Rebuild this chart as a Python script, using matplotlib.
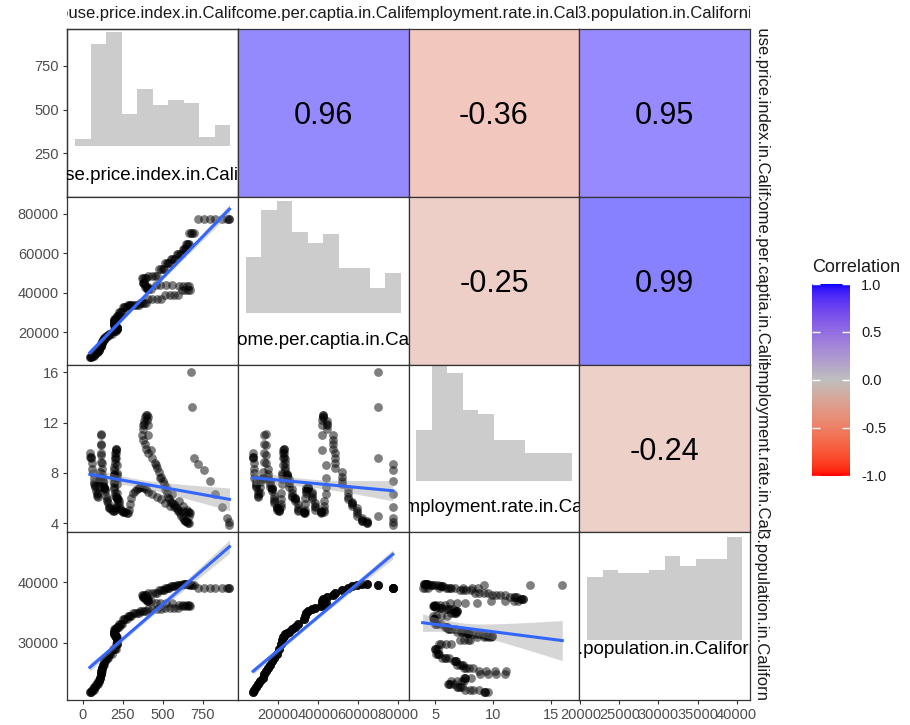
import numpy as np
import matplotlib
matplotlib.use("Agg")
import matplotlib.pyplot as plt
from matplotlib.colors import ListedColormap, Normalize
from matplotlib.transforms import Bbox, TransformedBbox, ScaledTranslation
from matplotlib.ticker import FormatStrFormatter
import matplotlib.colorbar as mcolorbar

plt.rcParams['font.family'] = ['Liberation Sans', 'DejaVu Sans']
plt.rcParams['axes.unicode_minus'] = False

# ---------------- data (quarterly 1976Q1 - 2022Q4) ----------------
years = list(range(1976, 2023))

hpi = [
    44, 47, 50, 53,   56, 60, 64, 67,   70, 73, 76, 79,   82, 86, 90, 93,
    96, 99, 101, 103, 105, 107, 109, 110, 111, 112, 112, 113, 114, 115, 116, 117,
    118, 120, 121, 122, 124, 126, 128, 130, 132, 135, 138, 141, 145, 149, 153, 157,
    161, 167, 173, 180, 187, 194, 200, 205, 208, 211, 212, 212, 212, 213, 212, 211,
    211, 210, 209, 208, 206, 205, 204, 202, 200, 199, 198, 196, 195, 194, 194, 193,
    193, 194, 195, 196, 198, 201, 204, 208, 211, 216, 221, 226, 229, 234, 239, 245,
    251, 258, 266, 274, 282, 289, 295, 302, 312, 324, 337, 350, 358, 369, 381, 395,
    410, 436, 466, 488, 515, 545, 572, 595, 620, 640, 660, 670, 665, 650, 625, 600,
    560, 520, 485, 455, 425, 410, 405, 402, 405, 403, 398, 390, 385, 380, 377, 374,
    372, 378, 388, 398, 410, 430, 450, 465, 478, 490, 500, 508, 515, 525, 535, 542,
    550, 560, 572, 580, 588, 598, 608, 615, 625, 635, 642, 645, 648, 652, 658, 662,
    665, 675, 682, 695, 720, 760, 795, 830, 868, 900, 918, 912,
]

unemployment = [
    9.6, 9.3, 9.2, 9.3,  8.8, 8.3, 8.0, 7.6,  7.3, 7.1, 7.0, 6.9,  6.6, 6.3, 6.2, 6.1,
    6.4, 6.9, 7.3, 7.5,  7.6, 7.5, 7.6, 8.1,  8.9, 9.6, 10.3, 11.0, 11.1, 10.2, 9.4, 8.8,
    8.3, 7.9, 7.7, 7.5,  7.4, 7.3, 7.1, 6.9,  6.8, 6.8, 6.7, 6.6,  6.2, 5.9, 5.8, 5.6,
    5.3, 5.2, 5.2, 5.1,  5.0, 5.0, 5.1, 5.2,  5.3, 5.5, 5.9, 6.4,  7.1, 7.5, 7.8, 8.0,
    8.6, 9.2, 9.6, 9.8,  9.9, 9.9, 9.6, 9.3,  9.1, 8.8, 8.5, 8.2,  7.9, 7.8, 7.8, 7.7,
    7.5, 7.3, 7.2, 6.9,  6.7, 6.4, 6.2, 6.1,  6.0, 6.0, 5.9, 5.8,  5.5, 5.2, 5.1, 5.0,
    4.9, 4.9, 4.9, 4.8,  4.8, 5.1, 5.5, 6.0,  6.4, 6.6, 6.7, 6.8,  6.9, 6.9, 6.8, 6.7,
    6.5, 6.3, 6.1, 5.9,  5.6, 5.4, 5.3, 5.1,  5.0, 4.9, 4.9, 4.8,  4.9, 5.1, 5.4, 5.8,
    6.3, 6.9, 7.6, 8.6,  9.8, 11.0, 11.8, 12.2, 12.4, 12.6, 12.6, 12.4, 12.1, 11.9, 11.8, 11.5,
    11.0, 10.6, 10.3, 9.9, 9.6, 9.2, 8.8, 8.4, 8.1, 7.7, 7.4, 7.1,  6.7, 6.4, 6.1, 5.9,
    5.7, 5.6, 5.5, 5.4,  5.2, 5.0, 4.8, 4.6,  4.4, 4.3, 4.2, 4.2,  4.2, 4.1, 4.0, 4.0,
    4.6, 16.0, 13.2, 9.2, 8.7, 8.2, 7.4, 6.3, 5.3, 4.4, 3.9, 4.1,
]

income_annual = [
    7600, 8200, 9100, 10100, 11200, 12400, 13100, 13900, 15200, 16200,
    17200, 18200, 19400, 20500, 21600, 22000, 22600, 22900, 23500, 24400,
    25600, 26800, 28500, 30200, 33000, 33800, 34000, 35000, 36900, 38700,
    41500, 43200, 43900, 42000, 42700, 44700, 47500, 48400, 52000, 55000,
    57300, 59800, 62300, 64500, 70200, 77500, 77500,
]

population_annual = [
    21870, 22300, 22800, 23280, 23800, 24300, 24820, 25340, 25840, 26400,
    26980, 27600, 28250, 29000, 29800, 30450, 30900, 31200, 31450, 31650,
    31870, 32250, 32680, 33150, 33900, 34450, 34880, 35250, 35570, 35830,
    36050, 36300, 36650, 36950, 37250, 37600, 37950, 38300, 38650, 39000,
    39300, 39550, 39750, 39700, 39580, 39100, 39050,
]

var_names = [
    "House.price.index.in.California",
    "Income.per.captia.in.California",
    "Unemployment.rate.in.California",
    "X3.population.in.California",
]

# histogram bar heights (10 bins each)
hist_hpi = [3, 45, 50, 14, 25, 18, 20, 19, 4, 9]
hist_income = [25, 46, 50, 36, 31, 35, 20, 20, 11, 18]
hist_unemp = [22, 50, 47, 31, 29, 18, 18, 12, 12, 12]
hist_pop = [37, 41, 39, 39, 41, 49, 43, 47, 47, 60]

# correlation values shown in the upper panels
corr_hpi_income = 0.96
corr_hpi_unemp = -0.36
corr_hpi_pop = 0.95
corr_income_unemp = -0.25
corr_income_pop = 0.99
corr_unemp_pop = -0.24

x_ticks = [[0, 250, 500, 750], [20000, 40000, 60000, 80000], [5, 10, 15],
           [20000, 25000, 30000, 35000, 40000]]
y_ticks = [[250, 500, 750], [20000, 40000, 60000, 80000], [4, 8, 12, 16],
           [30000, 40000]]
legend_ticks = [-1.0, -0.5, 0.0, 0.5, 1.0]

# ---------------- derived ----------------
data = [np.array(hpi, float), np.repeat(income_annual, 4).astype(float),
        np.array(unemployment, float), np.repeat(population_annual, 4).astype(float)]
hists = [hist_hpi, hist_income, hist_unemp, hist_pop]
corr = {(0, 1): corr_hpi_income, (0, 2): corr_hpi_unemp, (0, 3): corr_hpi_pop,
        (1, 2): corr_income_unemp, (1, 3): corr_income_pop, (2, 3): corr_unemp_pop}


def gg_edges(x, nbins):
    lo, hi = x.min(), x.max()
    width = (hi - lo) / (nbins - 1)
    boundary = width / 2
    shift = np.floor((lo - boundary) / width)
    origin = boundary + shift * width
    return origin + width * np.arange(nbins + 1)


def lm_ci(x, y, npts=80):
    xs = np.linspace(x.min(), x.max(), npts)
    xm, ym = x.mean(), y.mean()
    sxx = np.sum((x - xm) ** 2)
    b = np.sum((x - xm) * (y - ym)) / sxx
    a = ym - b * xm
    res = y - (a + b * x)
    s = np.sqrt(np.sum(res ** 2) / (len(x) - 2))
    se = s * np.sqrt(1 / len(x) + (xs - xm) ** 2 / sxx)
    fit = a + b * xs
    return xs, fit, fit - 1.973 * se, fit + 1.973 * se


edges = [gg_edges(d, len(h)) for d, h in zip(data, hists)]
xlims = []
for e in edges:
    span = e[-1] - e[0]
    xlims.append((e[0] - 0.05 * span, e[-1] + 0.05 * span))

ylims = []
for i in range(4):
    if i == 0:
        lo, hi = data[0].min(), data[0].max()
    else:
        xs, fit, l, u = lm_ci(data[0], data[i])
        lo = min(data[i].min(), l.min())
        hi = max(data[i].max(), u.max())
    r = hi - lo
    ylims.append((lo - 0.05 * r, hi + 0.05 * r))


# diverging palette interpolated in Lab (red - grey - blue)
def srgb2lab(c):
    c = np.asarray(c, float)
    lin = np.where(c <= 0.04045, c / 12.92, ((c + 0.055) / 1.055) ** 2.4)
    M = np.array([[0.4124, 0.3576, 0.1805], [0.2126, 0.7152, 0.0722], [0.0193, 0.1192, 0.9505]])
    xyz = M @ lin / np.array([0.95047, 1.0, 1.08883])
    f = np.where(xyz > 0.008856, np.cbrt(xyz), 7.787 * xyz + 16 / 116)
    return np.array([116 * f[1] - 16, 500 * (f[0] - f[1]), 200 * (f[1] - f[2])])


def lab2srgb(lab):
    L, a, b = lab
    fy = (L + 16) / 116
    fx = fy + a / 500
    fz = fy - b / 200
    f = np.array([fx, fy, fz])
    xyz = np.where(f ** 3 > 0.008856, f ** 3, (f - 16 / 116) / 7.787) * np.array([0.95047, 1.0, 1.08883])
    Minv = np.linalg.inv(np.array([[0.4124, 0.3576, 0.1805], [0.2126, 0.7152, 0.0722], [0.0193, 0.1192, 0.9505]]))
    lin = np.clip(Minv @ xyz, 0, 1)
    return np.clip(np.where(lin <= 0.0031308, 12.92 * lin, 1.055 * lin ** (1 / 2.4) - 0.055), 0, 1)


low_lab = srgb2lab([1, 0, 0])
mid_lab = srgb2lab([190 / 255] * 3)
high_lab = srgb2lab([0, 0, 1])
cols = []
for v in np.linspace(-1, 1, 257):
    if v < 0:
        lab = mid_lab + (-v) * (low_lab - mid_lab)
    else:
        lab = mid_lab + v * (high_lab - mid_lab)
    cols.append(lab2srgb(lab))
cmap = ListedColormap(cols)
norm = Normalize(-1, 1)

# ---------------- figure ----------------
W, H = 910, 725
fig = plt.figure(figsize=(W / 100, H / 100), dpi=100)
X0, Y0, X1, Y1 = 67.3, 29.0, 750.0, 700.0
pw, ph = (X1 - X0) / 4, (Y1 - Y0) / 4

# diagonal layout: (baseline fraction, top fraction, label fraction)
diag_geom = [(0.305, 0.98, 0.125), (0.306, 0.976, 0.143), (0.307, 0.99, 0.15),
             (0.36, 0.97, 0.30)]
# horizontal offsets (in em) of the clipped labels
strip_shift = [0.47, 0.7, 0.72, 0.0]
diag_shift = [0.33, 0.8, 0.55, 0.0]
strip_fs, diag_fs = 12.0, 13.5

border = '#333333'
axes = [[None] * 4 for _ in range(4)]
for i in range(4):
    for j in range(4):
        left = X0 + j * pw
        top = Y0 + i * ph
        ax = fig.add_axes([left / W, 1 - (top + ph) / H, pw / W, ph / H])
        axes[i][j] = ax
        for s in ax.spines.values():
            s.set_color(border)
            s.set_linewidth(0.9)
        ax.set_xlim(xlims[j])

        if i > j:
            x, y = data[j], data[i]
            ax.set_ylim(ylims[i])
            ax.scatter(x, y, s=40, c='black', alpha=0.5, linewidths=0, zorder=2)
            xs, fit, l, u = lm_ci(x, y)
            ax.fill_between(xs, l, u, color='#999999', alpha=0.4, linewidth=0, zorder=3)
            ax.plot(xs, fit, color='#3366FF', linewidth=2.2, zorder=4)
        elif i < j:
            r = corr[(i, j)]
            rgba = cmap(norm(r))
            bg = tuple(0.5 * np.array(rgba[:3]) + 0.5)
            ax.set_facecolor(bg)
            ax.set_ylim(ylims[i])
            ax.text(0.5, 0.48, f"{r:.2f}", transform=ax.transAxes, ha='center', va='center',
                    fontsize=22, color='black')
        else:
            hax = ax
            if i == 0:
                ax.set_ylim(ylims[0])
                hax = ax.twinx()
                hax.set_xlim(xlims[j])
                for s in hax.spines.values():
                    s.set_color(border)
                    s.set_linewidth(0.9)
                hax.tick_params(right=False, labelright=False)
            e = edges[j]
            cnt = np.array(hists[j], float)
            hax.bar(e[:-1], cnt, width=np.diff(e), align='edge', color='#CCCCCC', linewidth=0)
            b, t, lab_y = diag_geom[j]
            rng = cnt.max() / (t - b)
            hax.set_ylim(-b * rng, -b * rng + rng)
            off = ScaledTranslation(diag_shift[j] * diag_fs / 72, 0, fig.dpi_scale_trans)
            hax.text(0.5, lab_y, var_names[j], transform=hax.transAxes + off, ha='center',
                     va='center', fontsize=diag_fs, color='black', clip_on=True)

        ax.tick_params(length=3, width=0.8, color=border, labelsize=10.5,
                       labelcolor='#4D4D4D', pad=3)
        if j == 0:
            ax.set_yticks(y_ticks[i])
        else:
            ax.tick_params(left=False, labelleft=False)
            ax.set_yticks([])
        if i == 3:
            ax.set_xticks(x_ticks[j])
        else:
            ax.tick_params(bottom=False, labelbottom=False)
            ax.set_xticks([])

# strip labels
for j in range(4):
    ax = axes[0][j]
    off = ScaledTranslation(strip_shift[j] * strip_fs / 72, 0, fig.dpi_scale_trans)
    t = ax.text(0.5, 1.095, var_names[j], transform=ax.transAxes + off, ha='center',
                va='center', fontsize=strip_fs, color='#1A1A1A')
    t.set_clip_box(TransformedBbox(Bbox([[0, 1.0], [1, 1.3]]), ax.transAxes))
    t.set_clip_on(True)
for i in range(4):
    ax = axes[i][3]
    off = ScaledTranslation(0, -strip_shift[i] * strip_fs / 72, fig.dpi_scale_trans)
    t = ax.text(1.064, 0.5, var_names[i], transform=ax.transAxes + off, ha='center',
                va='center', rotation=270, fontsize=strip_fs, color='#1A1A1A')
    t.set_clip_box(TransformedBbox(Bbox([[1.0, 0], [1.3, 1]]), ax.transAxes))
    t.set_clip_on(True)

# legend
cax = fig.add_axes([811.7 / W, 1 - 475.5 / H, 38.3 / W, 191.5 / H])
cb = mcolorbar.ColorbarBase(cax, cmap=cmap, norm=norm, ticks=legend_ticks)
cb.outline.set_visible(False)
cax.yaxis.set_major_formatter(FormatStrFormatter('%.1f'))
cax.tick_params(which='both', direction='in', left=True, right=True, color='white',
                length=5.5, width=1.0, labelleft=False, labelright=True,
                labelsize=10.5, labelcolor='#1A1A1A', pad=8)
fig.text(811.7 / W, 1 - 268 / H, "Correlation", fontsize=13, ha='left', va='center',
         color='#1A1A1A')

fig.savefig("out.png", dpi=100)
